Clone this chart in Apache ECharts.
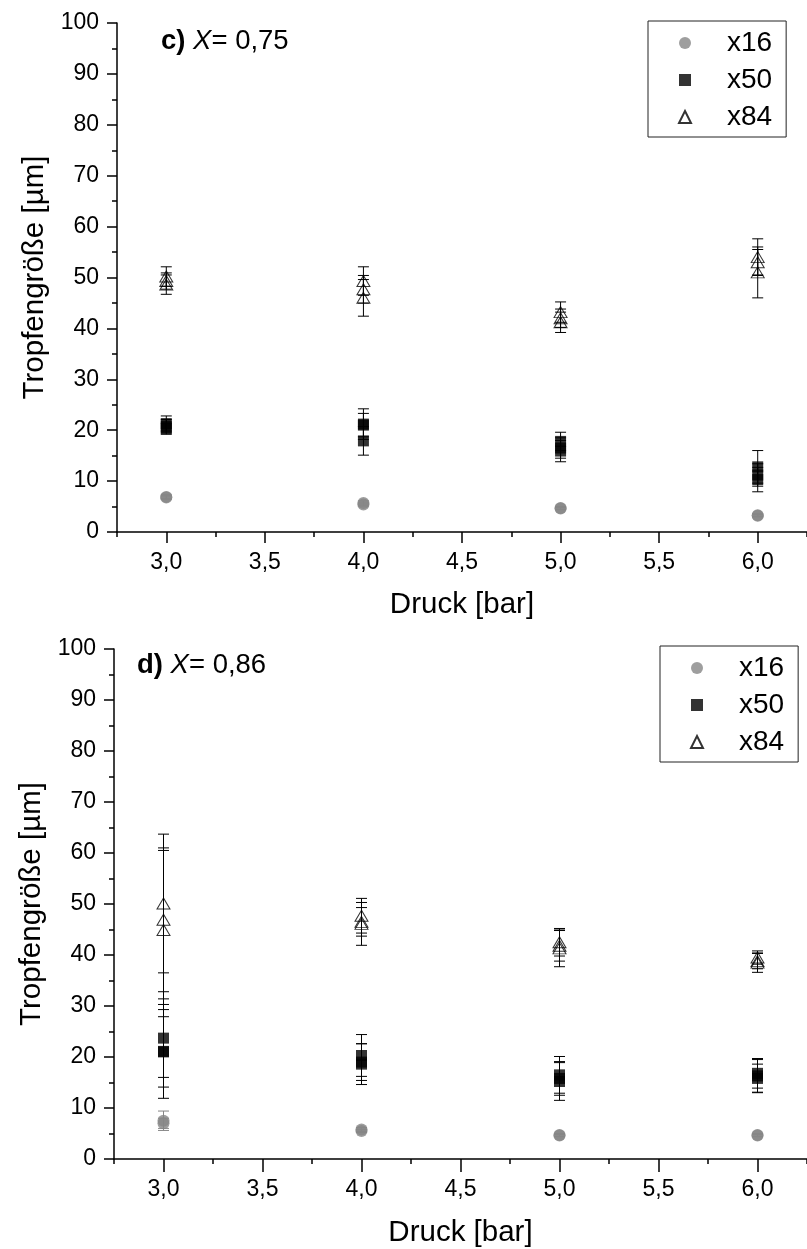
<!DOCTYPE html>
<html>
<head>
<meta charset="utf-8">
<script src="https://cdn.jsdelivr.net/npm/echarts@6/dist/echarts.min.js"></script>
<style>
  html, body { margin: 0; padding: 0; background: #fff; }
  #chart { width: 807px; height: 1249px; }
</style>
</head>
<body>
<div id="chart"></div>
<script>
// Tropfengrößen x16 / x50 / x84 über dem Druck, je Messpunkt [Druck, Wert, Fehler]
const pressureTicks = [3.0, 3.5, 4.0, 4.5, 5.0, 5.5, 6.0];
const seriesNames = ['x16', 'x50', 'x84'];

// c) X = 0,75
const c_x16 = [[3.0, 6.9, 0.4], [3.0, 6.8, 0.3], [4.0, 5.7, 0.4], [4.0, 5.4, 0.3],
               [5.0, 4.7, 0.3], [5.0, 4.6, 0.2], [6.0, 3.3, 0.3], [6.0, 3.2, 0.2]];
const c_x50 = [[3.0, 21.3, 1.5], [3.0, 20.3, 1.1], [3.0, 20.8, 1.3],
               [4.0, 21.2, 3.0], [4.0, 17.9, 2.8], [4.0, 21.0, 2.3],
               [5.0, 17.8, 1.8], [5.0, 16.5, 2.0], [5.0, 15.9, 2.1],
               [6.0, 12.8, 3.2], [6.0, 11.2, 2.2], [6.0, 10.3, 2.4]];
const c_x84 = [[3.0, 50.2, 1.9], [3.0, 49.3, 1.6], [3.0, 48.6, 1.9],
               [4.0, 49.3, 2.8], [4.0, 47.7, 2.7], [4.0, 46.0, 3.6],
               [5.0, 43.2, 2.0], [5.0, 42.0, 1.8], [5.0, 41.2, 2.0],
               [6.0, 54.0, 3.6], [6.0, 53.0, 2.5], [6.0, 51.0, 5.0]];

// d) X = 0,86
const d_x16 = [[3.0, 7.5, 1.9], [3.0, 7.0, 1.0], [4.0, 5.8, 0.4], [4.0, 5.5, 0.3],
               [5.0, 4.7, 0.3], [5.0, 4.6, 0.2], [6.0, 4.7, 0.3], [6.0, 4.6, 0.2]];
const d_x50 = [[3.0, 23.7, 7.7], [3.0, 21.0, 6.9], [3.0, 21.1, 9.2],
               [4.0, 20.3, 4.1], [4.0, 19.0, 3.6], [4.0, 18.6, 4.0],
               [5.0, 16.5, 3.6], [5.0, 15.2, 3.7], [5.0, 15.8, 3.3],
               [6.0, 16.8, 2.9], [6.0, 15.8, 2.8], [6.0, 16.3, 3.2]];
const d_x84 = [[3.0, 50.1, 13.6], [3.0, 46.9, 14.1], [3.0, 44.9, 15.6],
               [4.0, 47.7, 3.4], [4.0, 46.1, 4.2], [4.0, 46.5, 2.8],
               [5.0, 42.5, 2.7], [5.0, 41.8, 3.0], [5.0, 41.3, 3.6],
               [6.0, 39.5, 1.3], [6.0, 38.5, 1.9], [6.0, 38.8, 1.5]];

const FONT = '"Liberation Sans", Arial, sans-serif';
const GRAY = '#868686';
const BLACK = '#000';
const CHART_W = 807;

const fmtComma = v => v.toFixed(1).replace('.', ',');

// Symbol styles per size class
const markStyle = {
  x16: { symbol: 'circle', symbolSize: 12, itemStyle: { color: GRAY } },
  x50: { symbol: 'rect', symbolSize: 11, itemStyle: { color: BLACK } },
  x84: { symbol: 'triangle', symbolSize: [13, 11],
         itemStyle: { color: 'rgba(255,255,255,0)', borderColor: BLACK, borderWidth: 1 } }
};
const barColor = { x16: GRAY, x50: BLACK, x84: BLACK };

function errorBars(name, data, axisIdx) {
  const color = barColor[name];
  return {
    type: 'custom',
    name: name + ' Fehler',
    xAxisIndex: axisIdx, yAxisIndex: axisIdx,
    data: data,
    encode: { x: 0, y: 1 },
    silent: true,
    z: 1,
    renderItem(params, api) {
      const x = api.value(0), y = api.value(1), e = api.value(2);
      const hi = api.coord([x, y + e]);
      const lo = api.coord([x, y - e]);
      const w = 5.5;
      const st = { stroke: color, lineWidth: 1 };
      return {
        type: 'group',
        children: [
          { type: 'line', shape: { x1: hi[0], y1: hi[1], x2: lo[0], y2: lo[1] }, style: st },
          { type: 'line', shape: { x1: hi[0] - w, y1: hi[1], x2: hi[0] + w, y2: hi[1] }, style: st },
          { type: 'line', shape: { x1: lo[0] - w, y1: lo[1], x2: lo[0] + w, y2: lo[1] }, style: st }
        ]
      };
    }
  };
}

function marks(name, data, axisIdx) {
  return Object.assign({
    type: 'scatter',
    name: name,
    xAxisIndex: axisIdx, yAxisIndex: axisIdx,
    data: data.map(p => [p[0], p[1]]),
    z: 3
  }, markStyle[name]);
}

// One panel = a data grid (2,75 … 6,25 with minor x ticks, y axis)
// plus an overlay grid starting at 3,0 that carries the major x ticks and labels.
function panel(left, top, height) {
  const width = CHART_W - left;          // axis runs to the right edge
  const unit = width / 3.5;              // px per bar
  const off = 0.25 * unit;
  return [
    { left: left, top: top, width: width, height: height },
    { left: left + off, top: top, width: width - off, height: height }
  ];
}

const axisLineStyle = { color: BLACK, width: 1.5 };

function xMinor(gridIndex, nameGap) {
  return {
    type: 'value', gridIndex: gridIndex,
    min: 2.75, max: 6.25, interval: 0.25,
    axisLine: { show: true, onZero: false, lineStyle: axisLineStyle },
    axisTick: { show: true, length: 5, lineStyle: axisLineStyle },
    axisLabel: { show: false },
    splitLine: { show: false },
    name: 'Druck [bar]', nameLocation: 'middle', nameGap: nameGap,
    nameTextStyle: { fontSize: 29.5, color: BLACK, fontFamily: FONT }
  };
}
function xMajor(gridIndex, margin) {
  return {
    type: 'value', gridIndex: gridIndex,
    min: 3.0, max: 6.25, interval: 0.5,
    axisLine: { show: false, onZero: false },
    axisTick: { show: true, length: 11, lineStyle: axisLineStyle },
    axisLabel: { fontSize: 23, color: BLACK, fontFamily: FONT, margin: margin,
                 formatter: v => (pressureTicks.indexOf(v) >= 0 ? fmtComma(v) : ''),
                 showMaxLabel: false },
    splitLine: { show: false }
  };
}
function yMain(gridIndex) {
  return {
    type: 'value', gridIndex: gridIndex,
    min: 0, max: 100, interval: 10,
    axisLine: { show: true, onZero: false, lineStyle: axisLineStyle },
    axisTick: { show: true, length: 10, lineStyle: axisLineStyle },
    minorTick: { show: true, splitNumber: 2, length: 5, lineStyle: axisLineStyle },
    axisLabel: { fontSize: 23, color: BLACK, fontFamily: FONT, margin: 18 },
    splitLine: { show: false },
    minorSplitLine: { show: false },
    name: 'Tropfengröße [µm]', nameLocation: 'middle', nameGap: 66, nameRotate: 90,
    nameTextStyle: { fontSize: 29.5, color: BLACK, fontFamily: FONT }
  };
}
function yHidden(gridIndex) {
  return { type: 'value', gridIndex: gridIndex, min: 0, max: 100, show: false };
}

function legendAt(left, top) {
  return {
    left: left, top: top,
    orient: 'vertical',
    data: seriesNames,
    itemWidth: 12, itemHeight: 12, itemGap: 9,
    padding: [8, 14, 6, 30],
    borderColor: '#222', borderWidth: 1,
    selectedMode: false,
    textStyle: { fontSize: 28, color: BLACK, fontFamily: FONT, padding: [0, 0, 0, 31] }
  };
}

function panelTitle(letter, value, left, top) {
  return {
    text: '{b|' + letter + ')} {i|X}= ' + value,
    left: left, top: top, padding: 0,
    textStyle: {
      fontSize: 27.5, fontWeight: 'normal', color: BLACK, fontFamily: FONT,
      rich: {
        b: { fontSize: 27.5, fontWeight: 'bold', color: BLACK, fontFamily: FONT },
        i: { fontSize: 27.5, fontStyle: 'italic', color: BLACK, fontFamily: FONT }
      }
    }
  };
}

const grids = panel(117, 23, 509).concat(panel(114, 649, 512));

const option = {
  backgroundColor: '#fff',
  animation: false,
  textStyle: { fontFamily: FONT },
  title: [panelTitle('c', '0,75', 161, 27), panelTitle('d', '0,86', 137, 651)],
  legend: [legendAt(648, 21), legendAt(660, 646)],
  grid: grids,
  xAxis: [xMinor(0, 58), xMajor(1, 19), xMinor(2, 59), xMajor(3, 17)],
  yAxis: [yMain(0), yHidden(1), yMain(2), yHidden(3)],
  series: [
    errorBars('x16', c_x16, 0), errorBars('x50', c_x50, 0), errorBars('x84', c_x84, 0),
    marks('x16', c_x16, 0), marks('x50', c_x50, 0), marks('x84', c_x84, 0),
    errorBars('x16', d_x16, 2), errorBars('x50', d_x50, 2), errorBars('x84', d_x84, 2),
    marks('x16', d_x16, 2), marks('x50', d_x50, 2), marks('x84', d_x84, 2)
  ]
};

const chart = echarts.init(document.getElementById('chart'), null, { renderer: 'canvas' });
chart.setOption(option);
</script>
</body>
</html>
